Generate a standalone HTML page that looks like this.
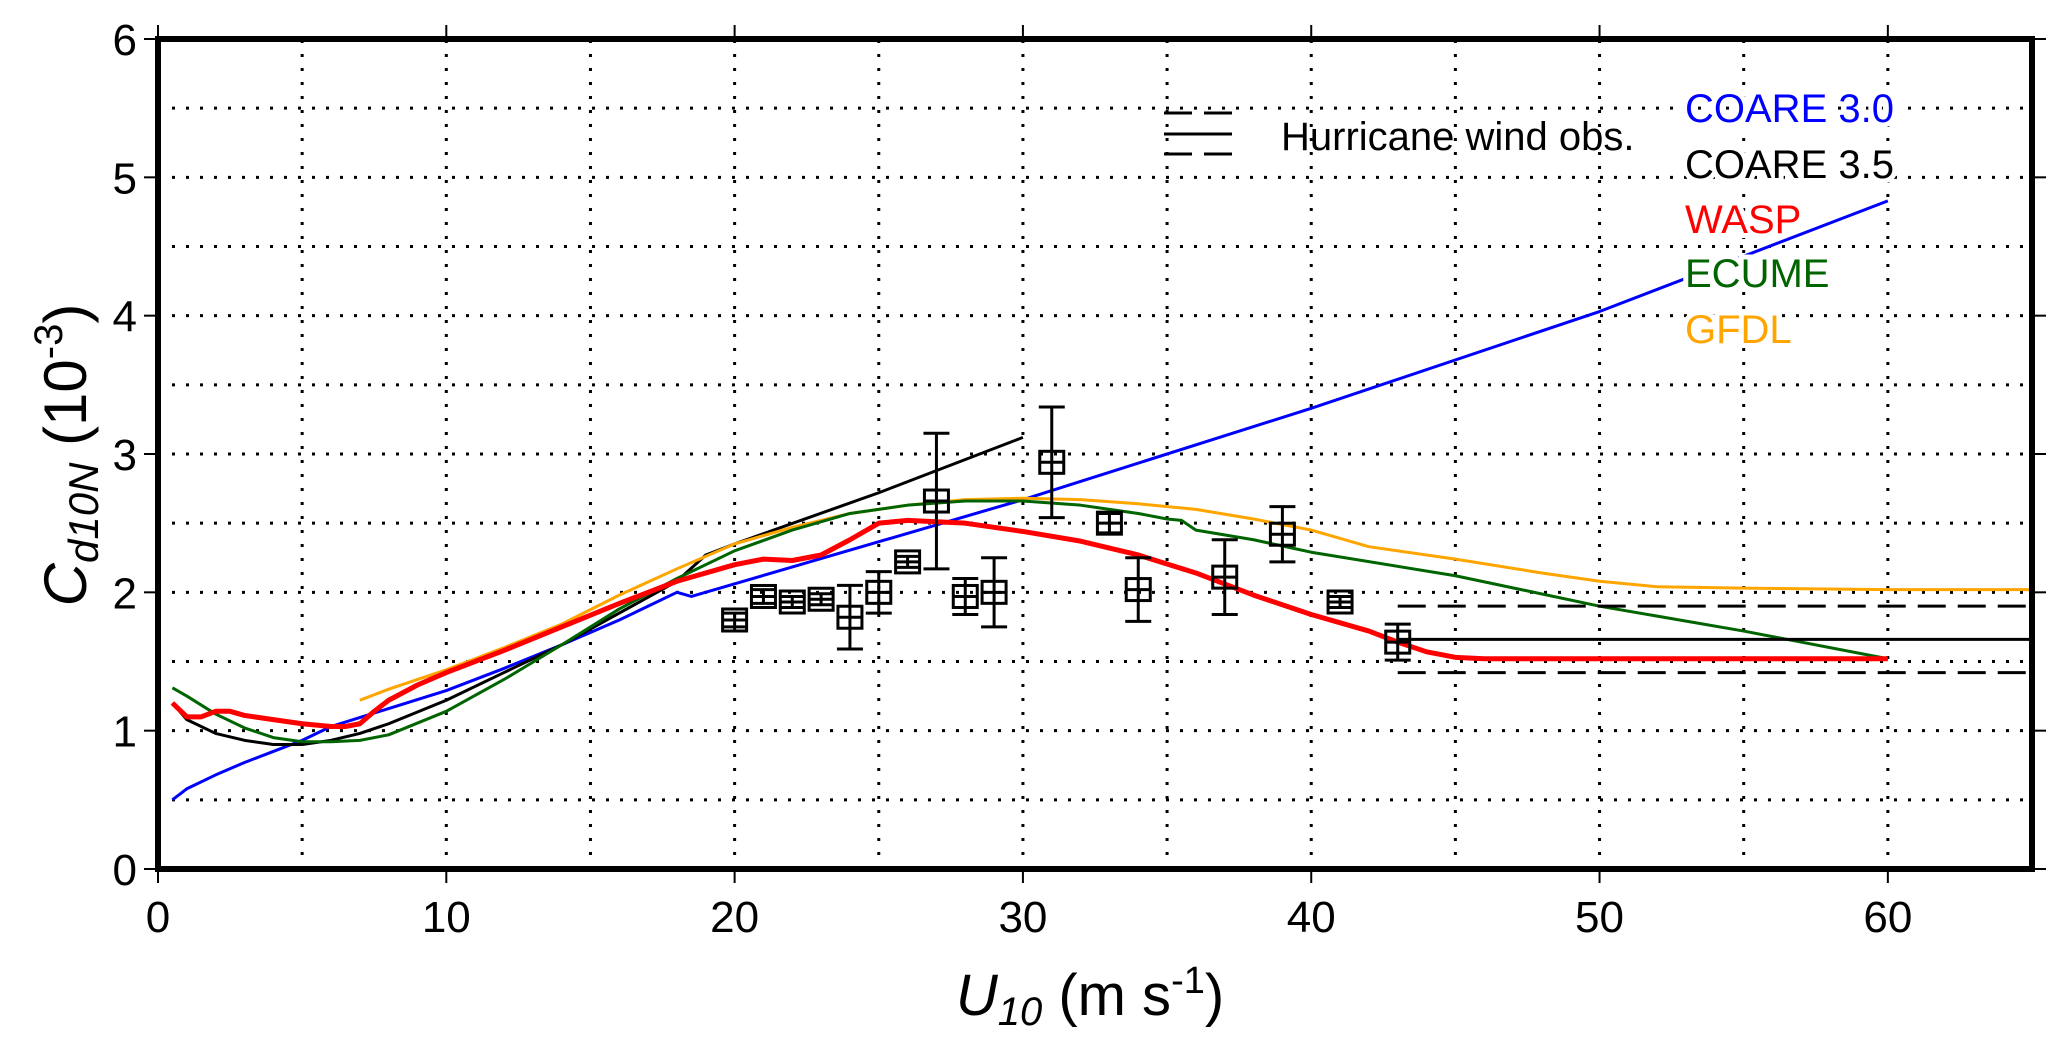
<!DOCTYPE html>
<html><head><meta charset="utf-8"><style>
html,body{margin:0;padding:0;background:#fff}
svg{display:block;font-family:"Liberation Sans",sans-serif}
</style></head><body>
<svg id="chart" width="2067" height="1043" viewBox="0 0 2067 1043" xmlns="http://www.w3.org/2000/svg">
<g id="grid"></g>
<g id="series"></g>
<g id="obs"></g>
<g id="axes"></g>
<g>
<line x1="1164" y1="113" x2="1232" y2="113" stroke="#000" stroke-width="3" stroke-dasharray="28,12"/>
<line x1="1164" y1="134" x2="1232" y2="134" stroke="#000" stroke-width="3"/>
<line x1="1164" y1="154" x2="1232" y2="154" stroke="#000" stroke-width="3" stroke-dasharray="28,12"/>
<text x="1281" y="150" font-size="40">Hurricane wind obs.</text>
<g font-size="40" stroke="#fff" stroke-width="10" paint-order="stroke">
<text x="1685" y="122" fill="#0000ff">COARE 3.0</text>
<text x="1685" y="178" fill="#000">COARE 3.5</text>
<text x="1685" y="233" fill="#ff0000">WASP</text>
<text x="1685" y="287" fill="#006400">ECUME</text>
<text x="1685" y="343" fill="#ffa500">GFDL</text>
</g></g>
</svg>
<script>
const xTicks=[0,10,20,30,40,50,60];
const yTicks=[0,1,2,3,4,5,6];
const coare30X=[0.5,1,2,3,4,5,6,8,10,12,14,16,18,18.5,30,40,50,60];
const coare30Y=[0.5,0.58,0.68,0.77,0.85,0.93,1.03,1.16,1.29,1.45,1.62,1.8,2.0,1.97,2.67,3.33,4.03,4.83];
const coare35X=[0.5,1,2,3,4,5,6,7,8,10,12,14,16,18,19,20,25,30];
const coare35Y=[1.2,1.08,0.98,0.93,0.9,0.9,0.93,0.98,1.05,1.22,1.42,1.62,1.85,2.08,2.27,2.35,2.72,3.12];
const waspX=[0.5,1,1.5,2,2.5,3,4,5,6,6.5,7,7.5,8,9,10,12,14,16,18,20,21,22,23,24,25,26,28,30,32,34,36,38,40,42,43,44,45,46,60];
const waspY=[1.2,1.1,1.1,1.14,1.14,1.11,1.08,1.05,1.03,1.03,1.05,1.14,1.22,1.33,1.42,1.58,1.75,1.92,2.08,2.2,2.24,2.23,2.27,2.38,2.5,2.52,2.5,2.44,2.37,2.27,2.14,1.98,1.84,1.72,1.64,1.57,1.53,1.52,1.52];
const ecumeX=[0.5,1,2,3,4,5,6,7,8,10,12,14,16,18,20,22,24,26,28,30,32,34,35,35.5,36,38,40,45,50,55,60];
const ecumeY=[1.31,1.25,1.12,1.02,0.95,0.92,0.92,0.93,0.97,1.14,1.37,1.62,1.88,2.1,2.3,2.45,2.57,2.63,2.66,2.66,2.63,2.57,2.53,2.52,2.45,2.38,2.29,2.12,1.9,1.72,1.52];
const gfdlX=[7,8,10,12,14,16,18,20,22,24,26,28,30,32,34,36,38,40,42,45,48,50,52,55,60,65];
const gfdlY=[1.22,1.3,1.44,1.6,1.77,1.98,2.17,2.35,2.47,2.57,2.63,2.67,2.68,2.67,2.64,2.6,2.53,2.45,2.33,2.24,2.14,2.08,2.04,2.03,2.02,2.02];
const obsX=[20,21,22,23,24,25,26,27,28,29,31,33,34,37,39,41,43];
const obsY=[1.8,1.97,1.93,1.95,1.82,2.0,2.22,2.66,1.97,2.0,2.94,2.5,2.02,2.11,2.42,1.93,1.64];
const obsErr=[0.05,0.05,0.04,0.04,0.23,0.15,0.04,0.49,0.13,0.25,0.4,0.07,0.23,0.27,0.2,0.04,0.13];
const hurrStart=43, hurrMean=1.66, hurrHigh=1.90, hurrLow=1.42;

const NS='http://www.w3.org/2000/svg';
const X0=158,X1=2032,Y0=869,Y1=39,XMAX=65,YMAX=6;
const sx=v=>X0+(X1-X0)*v/XMAX, sy=v=>Y0-(Y0-Y1)*v/YMAX;
function mk(tag,parent,attrs){const e=document.createElementNS(NS,tag);for(const k in attrs)e.setAttribute(k,attrs[k]);parent.appendChild(e);return e;}
const grid=document.getElementById('grid'),ser=document.getElementById('series'),obs=document.getElementById('obs'),axes=document.getElementById('axes');
for(let v=5;v<XMAX;v+=5){const l=mk('line',grid,{x1:sx(v),x2:sx(v),y1:Y0,y2:Y1,stroke:'#000','stroke-width':3,'stroke-dasharray':'3,11'});

}
for(let v=0.5;v<YMAX;v+=0.5){const l=mk('line',grid,{x1:X0,x2:X1,y1:sy(v),y2:sy(v),stroke:'#000','stroke-width':3,'stroke-dasharray':'3,11'});

}
function line(xs,ys,col,w,name){const p=mk('polyline',ser,{points:xs.map((x,i)=>sx(x)+','+sy(ys[i])).join(' '),fill:'none',stroke:col,'stroke-width':w,'stroke-linejoin':'round'});

}
line(coare30X,coare30Y,'#0000ff',3,'line-coare30');
line(coare35X,coare35Y,'#000',3,'line-coare35');
line(gfdlX,gfdlY,'#ffa500',3,'line-gfdl');
line(ecumeX,ecumeY,'#006400',3,'line-ecume');
line(waspX,waspY,'#ff0000',5,'line-wasp');
[[hurrMean,''],[hurrHigh,'28,12'],[hurrLow,'28,12']].forEach(([v,d])=>{const l=mk('line',ser,{x1:sx(hurrStart),x2:sx(XMAX),y1:sy(v),y2:sy(v),stroke:'#000','stroke-width':3,'stroke-dasharray':d||'none'});

});
obsX.forEach((x,i)=>{const g=mk('g',obs,{stroke:'#000','stroke-width':3,fill:'none'});


const cx=sx(x),cy=sy(obsY[i]),t=sy(obsY[i]+obsErr[i]),b=sy(obsY[i]-obsErr[i]);
mk('line',g,{x1:cx,x2:cx,y1:t,y2:b});mk('line',g,{x1:cx-13,x2:cx+13,y1:t,y2:t});mk('line',g,{x1:cx-13,x2:cx+13,y1:b,y2:b});
mk('rect',g,{x:cx-12,y:cy-11,width:24,height:22});mk('line',g,{x1:cx-12,x2:cx+12,y1:cy,y2:cy});});
mk('rect',axes,{x:X0,y:Y1,width:X1-X0,height:Y0-Y1,fill:'none',stroke:'#000','stroke-width':6});
xTicks.forEach(v=>{mk('line',axes,{x1:sx(v),x2:sx(v),y1:Y0,y2:Y0+14,stroke:'#000','stroke-width':2});mk('line',axes,{x1:sx(v),x2:sx(v),y1:Y1,y2:Y1-14,stroke:'#000','stroke-width':2});
const t=mk('text',axes,{x:sx(v),y:932,'font-size':44,'text-anchor':'middle'});t.textContent=v;

});
yTicks.forEach(v=>{mk('line',axes,{x1:X0-14,x2:X0,y1:sy(v),y2:sy(v),stroke:'#000','stroke-width':2});mk('line',axes,{x1:X1,x2:X1+14,y1:sy(v),y2:sy(v),stroke:'#000','stroke-width':2});
const t=mk('text',axes,{x:137,y:sy(v)+16,'font-size':44,'text-anchor':'end'});t.textContent=v;

});
const xt=mk('text',axes,{x:1090,y:1015,'font-size':58,'text-anchor':'middle'});


xt.innerHTML='<tspan font-style="italic">U<tspan font-size="40" dy="10">10</tspan></tspan><tspan dy="-10"> (m s</tspan><tspan font-size="38" dy="-22">-1</tspan><tspan dy="22">)</tspan>';
const yt=mk('text',axes,{x:0,y:0,'font-size':60,'text-anchor':'middle',transform:'translate(86,455) rotate(-90)'});


yt.innerHTML='<tspan font-style="italic">C<tspan font-size="42" dy="12">d10N</tspan></tspan><tspan dy="-12"> (10</tspan><tspan font-size="40" dy="-24">-3</tspan><tspan dy="24">)</tspan>';
</script>
</body></html>
